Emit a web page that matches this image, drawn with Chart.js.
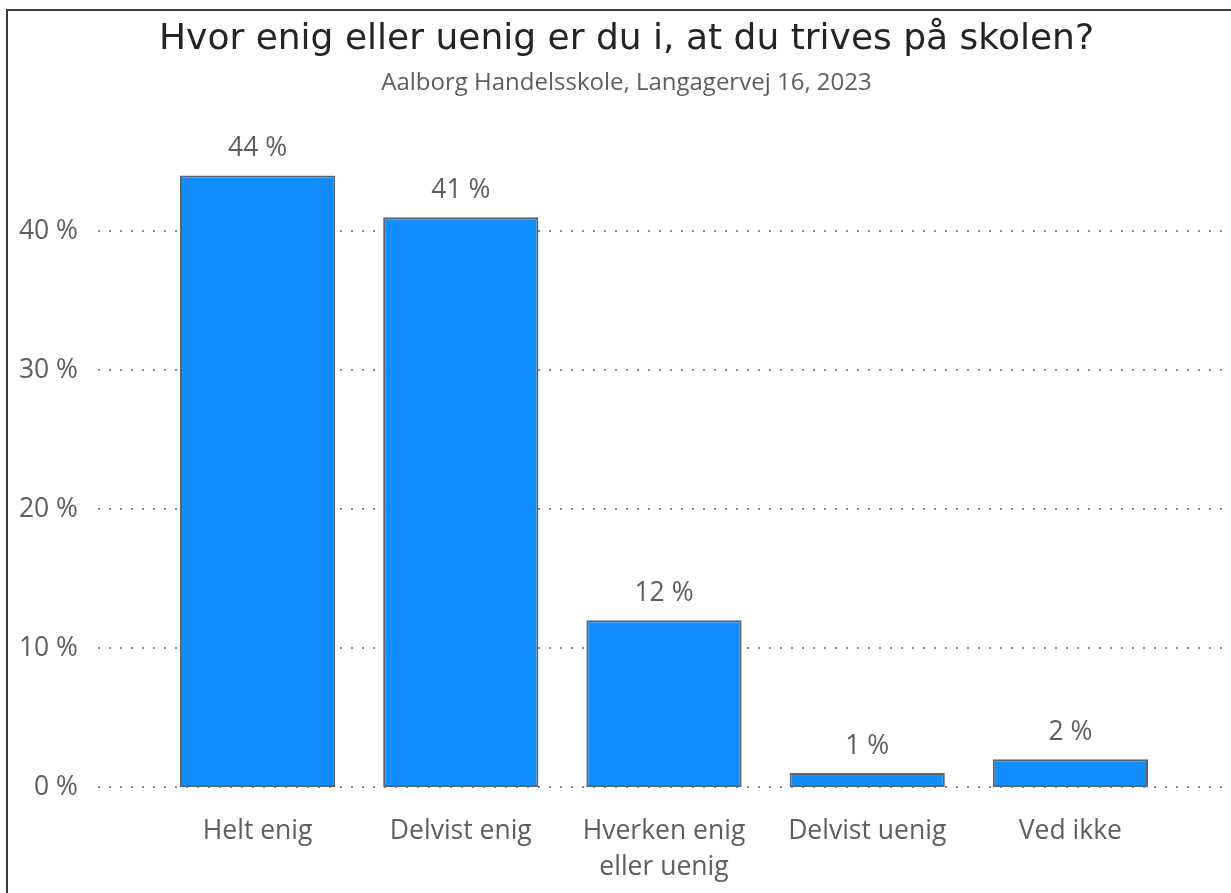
<!DOCTYPE html>
<html>
<head>
<meta charset="utf-8">
<script src="https://cdn.jsdelivr.net/npm/chart.js@4.4.1/dist/chart.umd.min.js"></script>
<style>
    html, body { margin: 0; padding: 0; background: #fff; overflow: hidden; }
    .frame {
        position: absolute;
        left: 6px;
        top: 9px;
        width: 1300px;
        height: 1000px;
        border-left: 2px solid #3a3a3a;
        border-top: 2px solid #3a3a3a;
    }
    .wrap {
        position: absolute;
        left: 8px;
        top: 11px;
        width: 1237px;
        height: 882px;
    }
</style>
</head>
<body>
<div class="frame"></div>
<div class="wrap"><canvas id="myChart"></canvas></div>

<script>
// Data
const categories = ['Helt enig', 'Delvist enig', ['Hverken enig', 'eller uenig'], 'Delvist uenig', 'Ved ikke']
const shares = [44, 41, 12, 1, 2]
const yTicks = [0, 10, 20, 30, 40]

const titleText = 'Hvor enig eller uenig er du i, at du trives på skolen?'
const subtitleText = 'Aalborg Handelsskole, Langagervej 16, 2023'

const labelFont = "'Open Sans', 'Noto Sans', sans-serif"
const textGray = '#605E5C'

// Title + subtitle, centred on the whole visual (not on the plot area)
const header = {
    id: 'header',
    afterDraw(chart) {
        const ctx = chart.ctx
        const cx = chart.width / 2
        ctx.save()
        ctx.textAlign = 'center'
        ctx.textBaseline = 'alphabetic'
        ctx.fillStyle = '#252423'
        ctx.font = "36px 'DejaVu Sans', sans-serif"
        ctx.fillText(titleText, cx, 37.5)
        ctx.fillStyle = textGray
        ctx.font = "24px " + labelFont
        ctx.fillText(subtitleText, cx, 79)
        ctx.restore()
    }
}

// Dotted gridlines, wider than the bar area (like Power BI)
const dottedGrid = {
    id: 'dottedGrid',
    beforeDatasetsDraw(chart) {
        const ctx = chart.ctx
        const area = chart.chartArea
        const y = chart.scales.y
        ctx.save()
        ctx.strokeStyle = '#8a8886'
        ctx.lineWidth = 2
        ctx.setLineDash([2, 9])
        yTicks.forEach(t => {
            const py = Math.round(y.getPixelForValue(t))
            ctx.beginPath()
            ctx.moveTo(area.left - 58, py)
            ctx.lineTo(area.right + 58, py)
            ctx.stroke()
        })
        ctx.restore()
    }
}

// Value labels above each bar
const barLabels = {
    id: 'barLabels',
    afterDatasetsDraw(chart) {
        const ctx = chart.ctx
        const meta = chart.getDatasetMeta(0)
        ctx.save()
        ctx.fillStyle = textGray
        ctx.font = "26.5px " + labelFont
        ctx.textAlign = 'center'
        ctx.textBaseline = 'middle'
        meta.data.forEach((bar, i) => {
            ctx.fillText(shares[i] + ' %', bar.x, bar.y - 27)
        })
        ctx.restore()
    }
}

const chartEl = document.getElementById('myChart')
new Chart(chartEl, {
    type: 'bar',
    data: {
        labels: categories,
        datasets: [{
            data: shares,
            backgroundColor: '#118DFF',
            borderColor: '#5b6670',
            borderWidth: 2,
            borderSkipped: false,
            barPercentage: 0.764,
            categoryPercentage: 1
        }]
    },
    options: {
        responsive: true,
        maintainAspectRatio: false,
        animation: false,
        layout: {
            padding: { left: 8, right: 73, top: 109, bottom: 0 }
        },
        scales: {
            x: {
                grid: { display: false },
                border: { display: false },
                ticks: {
                    color: textGray,
                    font: { family: labelFont, size: 26.5, lineHeight: 1.36 },
                    padding: 18,
                    maxRotation: 0,
                    autoSkip: false
                },
                afterFit(scale) { scale.height = 106 }
            },
            y: {
                min: 0,
                max: 48,
                grid: { display: false },
                border: { display: false },
                ticks: {
                    stepSize: 10,
                    color: textGray,
                    font: { family: labelFont, size: 26.5 },
                    padding: 70,
                    callback: v => v + ' %'
                },
                afterBuildTicks(scale) {
                    scale.ticks = yTicks.map(v => ({ value: v }))
                },
                afterFit(scale) { scale.width = 140 }
            }
        },
        plugins: {
            legend: { display: false },
            tooltip: { enabled: false },
            title: { display: false },
            subtitle: { display: false }
        }
    },
    plugins: [header, dottedGrid, barLabels]
})
</script>
</body>
</html>
